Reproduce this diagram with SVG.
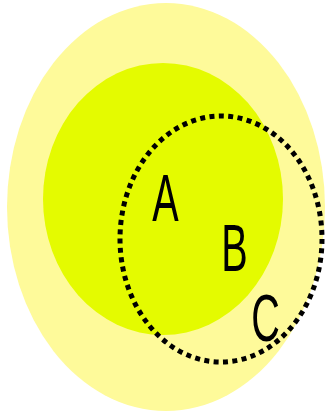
<svg xmlns="http://www.w3.org/2000/svg" width="326" height="413" viewBox="0 0 326 413">
<style>
.lbl{font-family:"Liberation Sans",Arial,sans-serif;font-size:66px;fill:#000;text-anchor:middle}
</style>
<rect width="326" height="413" fill="#fff"/>
<g id="outer"><ellipse cx="166" cy="207" rx="159" ry="204" fill="#fefa9a"/></g>
<g id="inner"><ellipse cx="163" cy="199" rx="120" ry="136" fill="#e4fb00"/></g>
<g id="dotted"><ellipse cx="221" cy="239" rx="101" ry="123" fill="none" stroke="#000" stroke-width="5" stroke-dasharray="5 4.4"/></g>
<g id="labels">
<text class="lbl" transform="translate(165.5,221) scale(0.6,1)">A</text>
<text class="lbl" transform="translate(234.5,271) scale(0.6,1)">B</text>
<text class="lbl" transform="translate(265.5,341) scale(0.6,1)">C</text>
</g>
</svg>
